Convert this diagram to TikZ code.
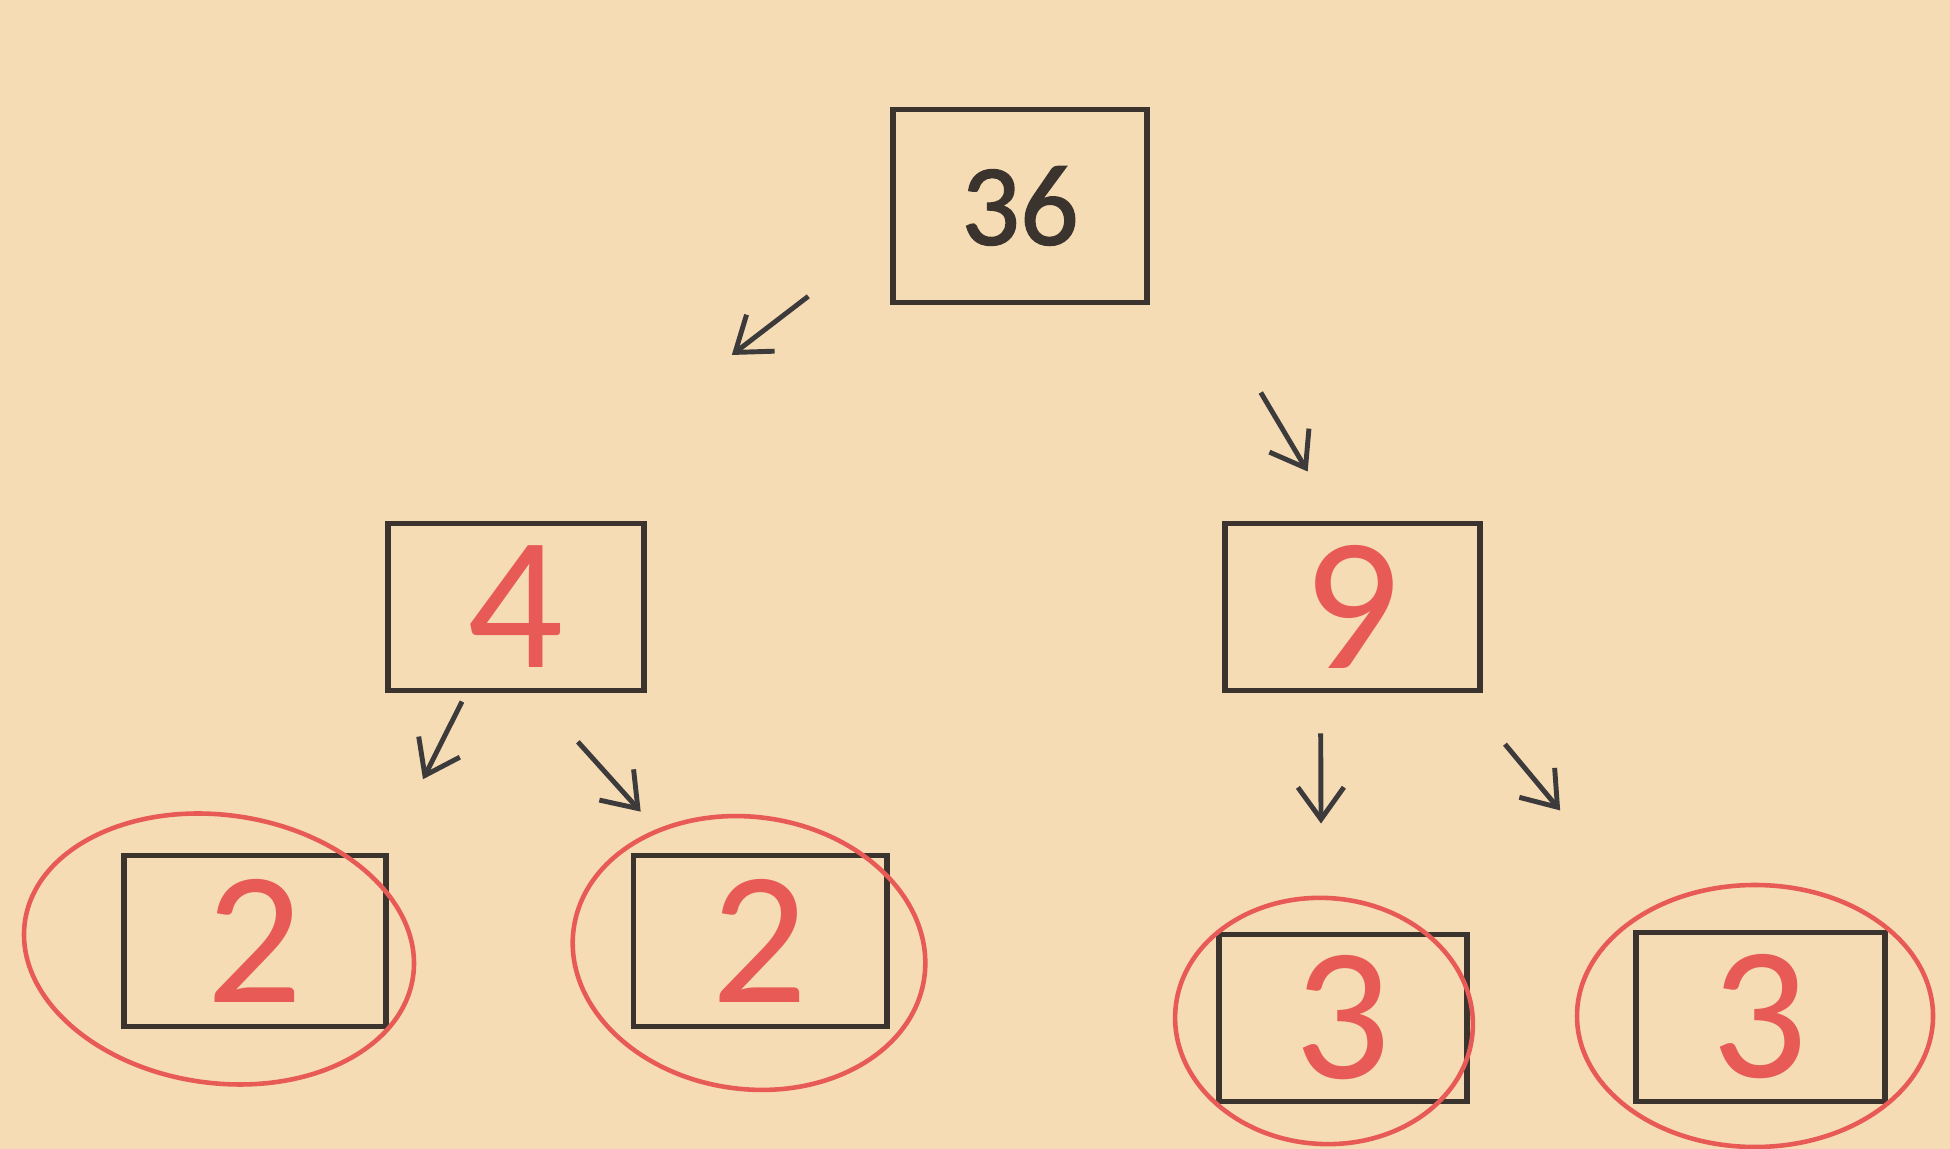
\documentclass[tikz,border=0pt]{standalone}
\usepackage{fontspec}
\setmainfont{Carlito}
\usetikzlibrary{arrows.meta}

\definecolor{paper}{HTML}{F6DCB5}
\definecolor{ink}{HTML}{3B342E}
\definecolor{pencil}{HTML}{3D3A3C}
\definecolor{marker}{HTML}{E85A55}
\newcommand\handdigit[1]{{\color{marker}\fontsize{54}{60}\selectfont #1}}

\begin{document}
\begin{tikzpicture}[
  x=0.1mm,y=-0.1mm,
  box/.style={draw=ink,line width=1.7pt,inner sep=0pt,minimum width=25.4mm,minimum height=17mm},
  arr/.style 2 args={-{Straight Barb[length=3.2mm,width=4.6mm]},line width=1.4pt,draw=pencil,shorten <=#1,shorten >=#2},
  ring/.style={draw=marker,line width=1.3pt},
]
\fill[paper] (0,0) rectangle (1950,1149);
\useasboundingbox (0,0) rectangle (1950,1149);

% factor tree
\node[box,minimum height=19.3mm,text=ink] (n36) at (1020,206) {\addfontfeature{FakeBold=1.2}\fontsize{33}{38}\selectfont\raisebox{-1mm}{36}};
\node[box,minimum width=25.6mm,minimum height=16.7mm] (n4) at (516,607) {\handdigit{4}};
\node[box,minimum width=25.5mm,minimum height=16.7mm] (n9) at (1352,607) {\handdigit{9}};
\node[box,minimum width=26.2mm,minimum height=17.1mm] (n2a) at (255,941) {\handdigit{2}};
\node[box,minimum width=25.3mm,minimum height=17.1mm] (n2b) at (760,941) {\handdigit{2}};
\node[box,minimum width=24.8mm,minimum height=16.7mm] (n3a) at (1343,1018) {\handdigit{3}};
\node[box,minimum width=24.9mm,minimum height=16.9mm] (n3b) at (1760,1017) {\handdigit{3}};

\draw[arr={10.3mm}{27.2mm}] (n36.192) -- (n4.north);
\draw[arr={21.7mm}{5.7mm}] (n36.east) -- (n9.100);
\draw[arr={0.9mm}{8.2mm}] (n4.240) -- (n2a.34);
\draw[arr={6.5mm}{5.5mm}] (n4.282) -- (n2b.133);
\draw[arr={4mm}{10.8mm}] (n9.250) -- (n3a.104);
\draw[arr={6.6mm}{15.5mm}] (n9.322) -- (n3b.139);

% prime rings
\coordinate (c2a) at (219,949);
\coordinate (c2b) at (749,953);
\coordinate (c3a) at (1324,1021);
\coordinate (c3b) at (1755,1016);
\draw[ring,rotate around={-8:(c2a)}] (c2a) ellipse [x radius=19.6mm,y radius=13.4mm];
\draw[ring,rotate around={-8:(c2b)}] (c2b) ellipse [x radius=17.7mm,y radius=13.6mm];
\draw[ring,rotate around={-4:(c3a)}] (c3a) ellipse [x radius=14.9mm,y radius=12.3mm];
\draw[ring] (c3b) ellipse [x radius=17.8mm,y radius=13.1mm];
\end{tikzpicture}
\end{document}
